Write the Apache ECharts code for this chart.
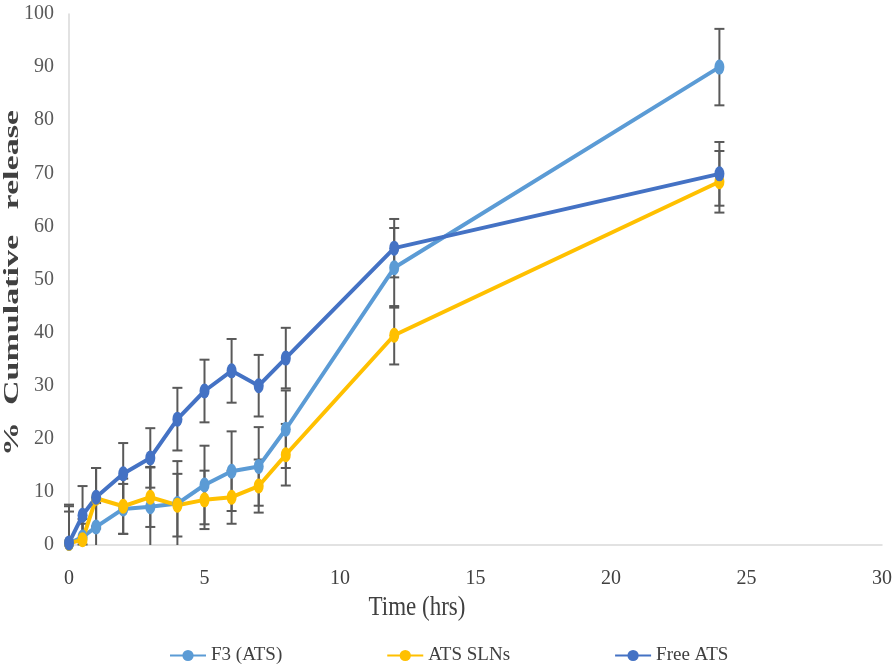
<!DOCTYPE html>
<html><head><meta charset="utf-8">
<script src="https://cdn.jsdelivr.net/npm/echarts@6/dist/echarts.min.js"></script>
<style>html,body{margin:0;padding:0;background:#fff}#c{width:896px;height:672px}</style>
</head><body><div id="c"></div>
<script>
const times = [0, 0.5, 1, 2, 3, 4, 5, 6, 7, 8, 12, 24];
const f3 = [0.3, 1.5, 3.4, 6.8, 7.2, 7.8, 11.3, 13.9, 14.8, 21.8, 52.2, 90.0];
const f3Err = [7.0, 3.4, 4.5, 4.7, 7.5, 8.0, 7.4, 7.5, 7.4, 7.3, 7.5, 7.2];
const sln = [0.3, 1.0, 8.8, 7.3, 9.0, 7.5, 8.5, 9.0, 11.1, 17.0, 39.5, 68.4];
const slnErr = [6.0, 3.0, 5.7, 5.2, 5.6, 5.9, 5.5, 5.0, 5.0, 5.8, 5.5, 5.8];
const free = [0.4, 5.6, 9.0, 13.4, 16.4, 23.7, 29.0, 32.8, 30.0, 35.2, 55.9, 69.9];
const freeErr = [7.2, 5.5, 5.5, 5.8, 5.6, 5.9, 5.9, 6.0, 5.8, 5.7, 5.5, 6.0];
const names = ['F3 (ATS)', 'ATS SLNs', 'Free ATS'];
const colors = ['#5B9BD5', '#FFC000', '#4472C4'];
const xTitle = 'Time (hrs)';
const yTitle = '%  Cumulative   release';

const chart = echarts.init(document.getElementById('c'));
function errData(vals, errs){ return times.map((t,i)=>[t, vals[i]-errs[i], vals[i]+errs[i]]); }
function errSeries(vals, errs){
  return {
    type: 'custom', z: 1, silent: true,
    data: errData(vals, errs),
    renderItem: function(params, api){
      const x = api.value(0);
      const lo = api.coord([x, Math.max(0, api.value(1))]);
      const hi = api.coord([x, api.value(2)]);
      const w = 5;
      const st = {stroke: '#595959', lineWidth: 2};
      const children = [
        {type:'line', shape:{x1:lo[0], y1:lo[1], x2:hi[0], y2:hi[1]}, style: st},
        {type:'line', shape:{x1:hi[0]-w, y1:hi[1], x2:hi[0]+w, y2:hi[1]}, style: st}
      ];
      if (api.value(1) > 0) children.push({type:'line', shape:{x1:lo[0]-w, y1:lo[1], x2:lo[0]+w, y2:lo[1]}, style: st});
      return {type:'group', children: children};
    }
  };
}
function lineSeries(name, vals, color){
  return {
    name: name, type: 'line', z: 3,
    data: times.map((t,i)=>[t, vals[i]]),
    symbol: 'circle', symbolSize: [10, 15],
    lineStyle: {color: color, width: 4},
    itemStyle: {color: color},
    emphasis: {disabled: true}
  };
}
const serif = 'Liberation Serif';
chart.setOption({
  animation: false,
  color: colors,
  grid: {left: 69, right: 14, top: 14, bottom: 127, containLabel: false, outerBoundsMode: 'none'},
  legend: {
    data: names, top: 641, left: 164, itemGap: 104, itemWidth: 36, itemHeight: 14,
    textStyle: {fontFamily: serif, fontSize: 19, color: '#404040'}
  },
  xAxis: {
    type: 'value', min: 0, max: 30, interval: 5,
    axisLine: {lineStyle: {color: '#d9d9d9', width: 1.5}},
    axisTick: {show: false},
    splitLine: {show: false},
    axisLabel: {fontFamily: serif, fontSize: 20, color: '#404040', margin: 24}
  },
  yAxis: {
    type: 'value', min: 0, max: 100, interval: 10,
    axisLine: {show: true, lineStyle: {color: '#d9d9d9', width: 1.5}},
    axisTick: {show: false},
    splitLine: {show: false},
    axisLabel: {fontFamily: serif, fontSize: 20, color: '#595959', margin: 15}
  },
  graphic: [
    {type: 'text', x: 417, y: 608, scaleY: 1.2,
     style: {text: xTitle, font: '23px "Liberation Serif"', fill: '#404040', align: 'center', verticalAlign: 'middle'}},
    {type: 'text', x: 13, y: 283, rotation: Math.PI / 2, scaleX: 1.7,
     style: {text: yTitle, font: 'bold 20px "Liberation Serif"', fill: '#404040', align: 'center', verticalAlign: 'middle'}}
  ],
  series: [
    errSeries(f3, f3Err), errSeries(sln, slnErr), errSeries(free, freeErr),
    lineSeries(names[0], f3, colors[0]),
    lineSeries(names[1], sln, colors[1]),
    lineSeries(names[2], free, colors[2])
  ]
});
</script></body></html>
